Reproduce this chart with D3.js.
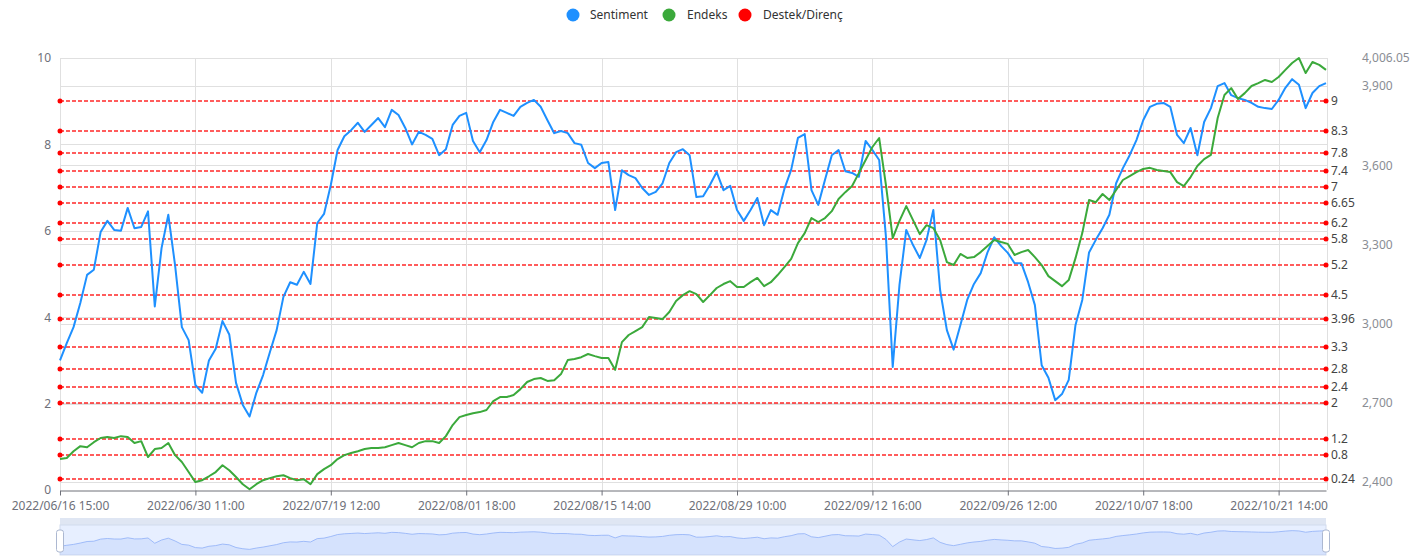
<!DOCTYPE html>
<html><head><meta charset="utf-8">
<script src="https://cdn.jsdelivr.net/npm/d3@7/dist/d3.min.js"></script>
<style>body{margin:0;background:#fff;} svg{display:block;} text{font-family:"Noto Sans",sans-serif;}</style>
</head><body><svg id="chart" width="1427" height="558"></svg>
<script>
// ---- data ----
const tickLabels = ['2022/06/16 15:00','2022/06/30 11:00','2022/07/19 12:00','2022/08/01 18:00','2022/08/15 14:00','2022/08/29 10:00','2022/09/12 16:00','2022/09/26 12:00','2022/10/07 18:00','2022/10/21 14:00'];
const tickEvery = 20;
const sentiment = [3.0,3.4,3.77,4.33,4.98,5.1,5.97,6.23,6.02,6.0,6.53,6.06,6.09,6.45,4.25,5.6,6.37,5.2,3.77,3.47,
2.43,2.25,3.0,3.27,3.91,3.6,2.48,1.97,1.7,2.25,2.66,3.19,3.7,4.47,4.81,4.75,5.05,4.77,6.18,6.39,
7.06,7.87,8.19,8.33,8.5,8.29,8.45,8.61,8.4,8.8,8.68,8.38,8.0,8.29,8.22,8.13,7.75,7.89,8.45,8.66,
8.73,8.08,7.82,8.1,8.52,8.8,8.73,8.66,8.87,8.96,9.03,8.87,8.56,8.26,8.31,8.26,8.03,7.99,7.57,7.45,
7.57,7.59,6.48,7.4,7.29,7.22,6.99,6.83,6.9,7.1,7.57,7.82,7.89,7.75,6.78,6.8,7.06,7.36,6.94,7.04,
6.48,6.23,6.48,6.76,6.13,6.48,6.37,6.97,7.41,8.15,8.24,6.94,6.6,7.18,7.75,7.87,7.38,7.34,7.25,8.08,
7.87,7.64,5.86,2.85,4.75,6.02,5.67,5.37,5.79,6.48,4.63,3.7,3.25,3.82,4.4,4.77,5.02,5.5,5.85,5.65,
5.49,5.25,5.25,4.81,4.28,2.89,2.6,2.08,2.22,2.55,3.82,4.4,5.5,5.79,6.06,6.37,7.1,7.45,7.75,8.1,
8.56,8.87,8.94,8.96,8.87,8.22,8.03,8.38,7.75,8.52,8.84,9.35,9.42,9.14,9.07,9.03,8.96,8.87,8.84,8.82,
9.03,9.31,9.51,9.38,8.84,9.19,9.35,9.42];
const endeks = [2487,2491,2517,2536,2532,2551,2567,2571,2567,2574,2571,2548,2555,2495,2525,2529,2548,2502,2476,2438,
2400,2407,2422,2438,2464,2445,2419,2392,2373,2392,2407,2415,2422,2426,2415,2407,2411,2392,2430,2449,
2464,2487,2502,2510,2517,2525,2529,2529,2532,2540,2548,2540,2532,2548,2555,2555,2548,2574,2616,2646,
2654,2661,2665,2673,2707,2722,2722,2730,2752,2779,2790,2794,2783,2786,2809,2862,2866,2873,2885,2877,
2870,2870,2825,2930,2957,2972,2987,3025,3021,3017,3044,3086,3108,3123,3112,3082,3108,3135,3150,3161,
3139,3139,3157,3173,3142,3157,3184,3214,3245,3305,3343,3400,3385,3400,3426,3472,3498,3521,3570,3620,
3669,3703,3525,3324,3389,3445,3392,3339,3373,3362,3317,3233,3222,3264,3249,3252,3271,3294,3317,3309,
3302,3260,3271,3279,3252,3222,3180,3161,3142,3165,3248,3343,3468,3460,3491,3468,3506,3544,3559,3574,
3586,3590,3582,3578,3574,3536,3521,3555,3597,3623,3639,3779,3866,3892,3851,3873,3900,3911,3923,3915,
3934,3961,3987,4006.05,3949,3991,3980,3961];
const levels = [0.24,0.8,1.2,2,2.4,2.8,3.3,3.96,4.5,5.2,5.8,6.2,6.65,7,7.4,7.8,8.3,9];
const leftTicks = [0,2,4,6,8,10];
const rightTicks = [2400,2700,3000,3300,3600,3900,4006.05];
const endeksExtent = [2370, 4006.05];
const seriesNames = ['Sentiment','Endeks','Destek/Direnç'];
const colors = ['#1E90FF','#3BA93B','#FF0000'];

// ---- layout ----
const svg = d3.select('#chart');
const M = {left:60, right:1326, top:58, bottom:490};
const N = sentiment.length;
const x = d3.scaleLinear().domain([0, N-1]).range([M.left, M.right]);
const yL = d3.scaleLinear().domain([0,10]).range([M.bottom, M.top]);
const yR = d3.scaleLinear().domain(endeksExtent).range([M.bottom, M.top]);
const tickIdx = tickLabels.map((d,i)=>i*tickEvery);
const grid = '#e0e0e0';
const snap = v => Math.round(v) + 0.5;
const odd = v => Math.floor(v/2)*2 + 1;   // 2-row aligned centre for thin coloured lines

// grid
const g = svg.append('g');
g.selectAll('.hl').data(leftTicks.filter(d=>d>0)).join('line')
  .attr('x1',M.left).attr('x2',M.right+1).attr('y1',d=>snap(yL(d))).attr('y2',d=>snap(yL(d)))
  .attr('stroke',grid);
g.selectAll('.hr').data(rightTicks).join('line')
  .attr('x1',M.left).attr('x2',M.right+1).attr('y1',d=>snap(yR(d))).attr('y2',d=>snap(yR(d)))
  .attr('stroke',grid);
g.selectAll('.vl').data(tickIdx).join('line')
  .attr('x1',d=>snap(x(d))).attr('x2',d=>snap(x(d))).attr('y1',M.top).attr('y2',M.bottom)
  .attr('stroke',grid);
g.append('line').attr('x1',M.right+1.5).attr('x2',M.right+1.5).attr('y1',M.top).attr('y2',M.bottom).attr('stroke',grid);

// x axis
const xa = svg.append('g').attr('transform',`translate(0,${M.bottom+0.5})`)
  .call(d3.axisBottom(x).tickValues(tickIdx).tickFormat(i=>tickLabels[i/tickEvery]).tickSize(5).tickSizeOuter(0).tickPadding(6));
xa.select('.domain').attr('stroke','#6E7079');
xa.selectAll('line').attr('stroke','#6E7079');
xa.selectAll('text').attr('fill','#6E7079').style('font-size','12px');

// left axis
const la = svg.append('g').attr('transform',`translate(${M.left},0)`)
  .call(d3.axisLeft(yL).tickValues(leftTicks).tickSize(0).tickPadding(9));
la.select('.domain').remove();
la.selectAll('text').attr('fill','#6E7079').style('font-size','12px');

// right axis
const ra = svg.append('g').attr('transform',`translate(${M.right+28},0)`)
  .call(d3.axisRight(yR).tickValues(rightTicks).tickFormat(d3.format(',')).tickSize(0).tickPadding(8));
ra.select('.domain').remove();
ra.selectAll('text').attr('fill','#8a8d94').style('font-size','12px');

// support/resistance levels
const lv = svg.append('g');
lv.selectAll('line').data(levels).join('line')
  .attr('x1',x(0)).attr('x2',x(N-1)).attr('y1',d=>odd(yL(d))).attr('y2',d=>odd(yL(d)))
  .attr('stroke',colors[2]).attr('stroke-width',1.6).attr('stroke-opacity',0.85).attr('stroke-dasharray','4,2');
lv.selectAll('circle.s').data(levels).join('circle').attr('class','s')
  .attr('cx',x(0)).attr('cy',d=>odd(yL(d))).attr('r',2.5).attr('fill',colors[2]);
lv.selectAll('circle.e').data(levels).join('circle').attr('class','e')
  .attr('cx',x(N-1)).attr('cy',d=>odd(yL(d))).attr('r',2.5).attr('fill',colors[2]);
lv.selectAll('text').data(levels).join('text')
  .attr('x',x(N-1)+5).attr('y',d=>odd(yL(d))).attr('dy','0.36em')
  .attr('fill','#444').style('font-size','12px').text(d=>d);

// series
const lineL = d3.line().x((d,i)=>x(i)).y(d=>yL(d));
const lineR = d3.line().x((d,i)=>x(i)).y(d=>yR(d));
svg.append('path').datum(sentiment).attr('d',lineL).attr('fill','none')
  .attr('stroke',colors[0]).attr('stroke-width',2).attr('stroke-linejoin','round');
svg.append('path').datum(endeks).attr('d',lineR).attr('fill','none')
  .attr('stroke',colors[1]).attr('stroke-width',2).attr('stroke-linejoin','round');

// legend
const legendPos = [{c:573,t:590},{c:669,t:687},{c:745,t:763}];
const lg = svg.append('g');
seriesNames.forEach((n,i)=>{
  lg.append('circle').attr('cx',legendPos[i].c).attr('cy',15).attr('r',6.5).attr('fill',colors[i]);
  lg.append('text').attr('x',legendPos[i].t).attr('y',15).attr('dy','0.36em')
    .attr('fill','#333').style('font-size','12px').text(n);
});

// data zoom slider
const S = {top:525, bottom:555, mh:7};
const sz = svg.append('g');
sz.append('rect').attr('x',M.left).attr('y',S.top-S.mh).attr('width',M.right-M.left).attr('height',S.mh)
  .attr('fill','#D2DBEE').attr('opacity',0.7);
sz.append('rect').attr('x',M.left).attr('y',S.top).attr('width',M.right-M.left).attr('height',S.bottom-S.top)
  .attr('fill','rgba(135,175,255,0.2)').attr('stroke','#d2dbee');
const ext = d3.extent(sentiment), off = (ext[1]-ext[0])*0.3;
const sy = d3.scaleLinear().domain([ext[0]-off, ext[1]+off]).range([S.bottom, S.top]);
sz.append('path').datum(sentiment)
  .attr('d', d3.area().x((d,i)=>x(i)).y0(S.bottom).y1(d=>sy(d)))
  .attr('fill','#8fb0f7').attr('opacity',0.2);
sz.append('path').datum(sentiment)
  .attr('d', d3.line().x((d,i)=>x(i)).y(d=>sy(d)))
  .attr('fill','none').attr('stroke','#8fb0f7').attr('stroke-width',0.8);
[M.left, M.right].forEach(hx=>{
  sz.append('rect').attr('x',hx-3.5).attr('y',530).attr('width',7).attr('height',22).attr('rx',2.5)
    .attr('fill','#fff').attr('stroke','#ACB8D1');
});
</script></body></html>
